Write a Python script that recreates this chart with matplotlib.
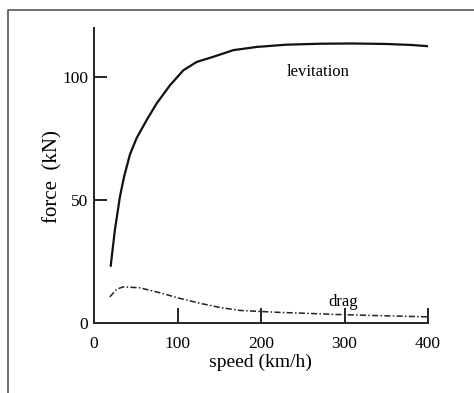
import matplotlib
matplotlib.use("Agg")
import matplotlib.pyplot as plt
from matplotlib.lines import Line2D

# values
lev_speed = [20, 25, 31, 36, 43, 51, 63, 75, 91, 107, 123, 143, 167, 195, 230,
             270, 310, 350, 380, 400]
lev_force = [23.2, 37.8, 51.3, 59.5, 68.5, 75.2, 82.5, 89.3, 96.7, 102.8, 106.2,
             108.3, 111, 112.3, 113.2, 113.6, 113.7, 113.5, 113.1, 112.6]

drag_speed = [19, 27, 35, 55, 79, 103, 127, 151, 175, 199, 223, 250, 287, 340, 400]
drag_force = [10.6, 13.7, 14.7, 14.3, 12.3, 10, 8, 6.3, 5.1, 4.7, 4.3, 4.0, 3.5, 3.0, 2.5]

x_ticks = [0, 100, 200, 300, 400]
y_ticks = [0, 50, 100]

plt.rcParams['font.family'] = ['Liberation Serif', 'DejaVu Serif']

W, H = 474, 393
fig = plt.figure(figsize=(W / 100, H / 100), dpi=100)
ax = fig.add_axes([94 / W, 70 / H, 334 / W, 295 / H])

ax.plot(lev_speed, lev_force, color='#111111', lw=1.6, solid_capstyle='round',
        solid_joinstyle='round')
ax.plot(drag_speed, drag_force, color='#222222', lw=1.1, linestyle=(0, (4, 1.5, 1, 1.5)))

ax.text(268, 102, "levitation", fontsize=12, ha='center', va='center')
ax.text(298, 8.5, "drag", fontsize=12, ha='center', va='center')

ax.set_xlim(0, 400)
ax.set_ylim(0, 120)
ax.spines['top'].set_visible(False)
ax.spines['right'].set_visible(False)
for s in ('left', 'bottom'):
    ax.spines[s].set_linewidth(1.4)
    ax.spines[s].set_color('#222222')

ax.set_xticks(x_ticks)
ax.set_yticks(y_ticks)
ax.tick_params(axis='x', direction='in', length=11, width=1.2, pad=9, labelsize=12.5)
ax.tick_params(axis='y', direction='in', length=9, width=1.2, pad=4, labelsize=12.5)
ax.xaxis.get_major_ticks()[0].tick1line.set_visible(False)
ax.yaxis.get_major_ticks()[0].tick1line.set_visible(False)

ax.set_xlabel("speed (km/h)", fontsize=14)
ax.set_ylabel("force  (kN)", fontsize=15)
ax.xaxis.set_label_coords(0.497, -0.105)
ax.yaxis.set_label_coords(-0.093, 0.498)

# gray frame of the original figure (left and top edges only visible)
fig.add_artist(Line2D([8 / W, 8 / W, 1.0], [0.0, 1 - 10 / H, 1 - 10 / H],
                      transform=fig.transFigure, color='#555555', lw=1.2))

fig.savefig("out.png", dpi=100)
